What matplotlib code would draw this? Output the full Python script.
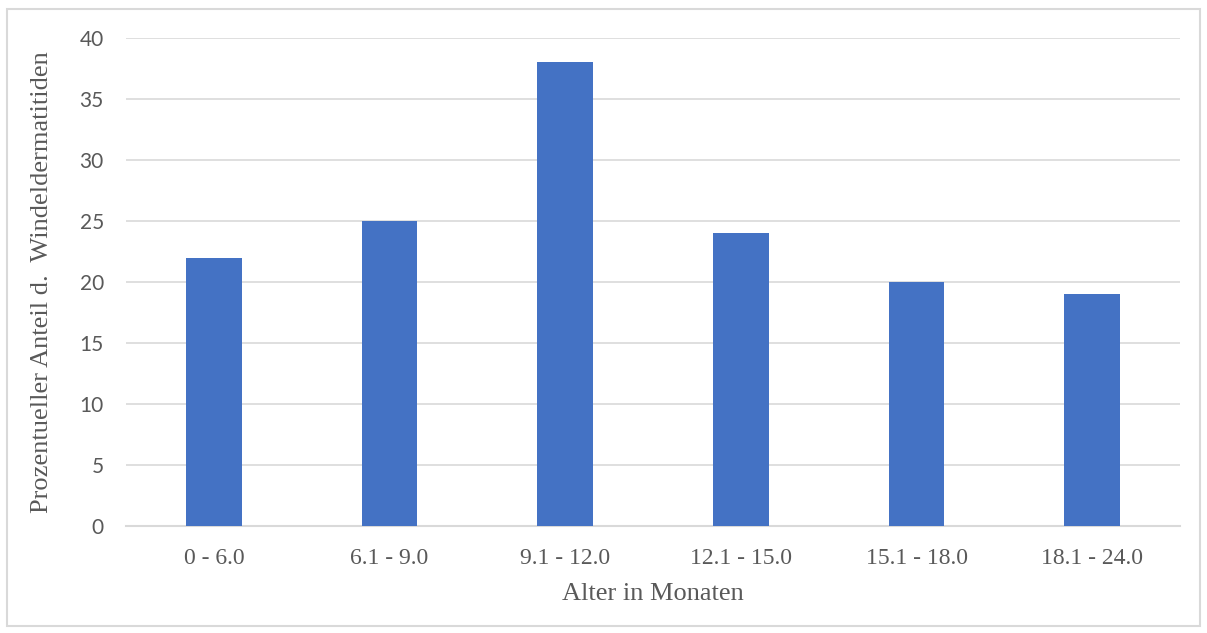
import matplotlib
matplotlib.use("Agg")
import matplotlib.pyplot as plt
from matplotlib.patches import Rectangle

categories = ["0 - 6.0", "6.1 - 9.0", "9.1 - 12.0", "12.1 - 15.0", "15.1 - 18.0", "18.1 - 24.0"]
values = [22, 25, 38, 24, 20, 19]
yticks = [0, 5, 10, 15, 20, 25, 30, 35, 40]

W, H = 1207, 633
fig = plt.figure(figsize=(W / 100, H / 100), dpi=100)
ax = fig.add_axes([126 / W, 1 - 526 / H, (1180 - 126) / W, (526 - 38) / H])

# light border around the chart area, like an Excel chart
fig.patches.append(Rectangle((7 / W, 1 - 626 / H), (1200 - 7) / W, (626 - 9) / H,
                             transform=fig.transFigure, fill=False,
                             edgecolor="#D9D9D9", linewidth=1.5))

x = range(len(categories))
ax.bar(x, values, width=0.315, color="#4472C4", zorder=3)

ax.set_xlim(-0.5, len(categories) - 0.5)
ax.set_ylim(0, 40)
ax.set_yticks(yticks)
ax.yaxis.grid(True, color="#D9D9D9", linewidth=1.2, zorder=0)
for s in ["top", "right", "left"]:
    ax.spines[s].set_visible(False)
ax.spines["bottom"].set_color("#D9D9D9")
ax.spines["bottom"].set_linewidth(1.5)
ax.tick_params(length=0)
ax.tick_params(axis="y", pad=16)
ax.tick_params(axis="x", pad=16)

ax.set_xticks(list(x))
ax.set_xticklabels(categories, family="Liberation Serif", fontsize=17, color="#595959")
for lbl in ax.get_yticklabels():
    lbl.set_family("Lato")
    lbl.set_fontsize(15)
    lbl.set_color("#595959")

ax.set_xlabel("Alter in Monaten", family="Liberation Serif", fontsize=19,
              color="#595959", labelpad=10)
ax.set_ylabel("Prozentueller Anteil d.  Windeldermatitiden", family="Liberation Serif",
              fontsize=19, color="#595959", labelpad=19)

fig.savefig("out.png", dpi=100)
